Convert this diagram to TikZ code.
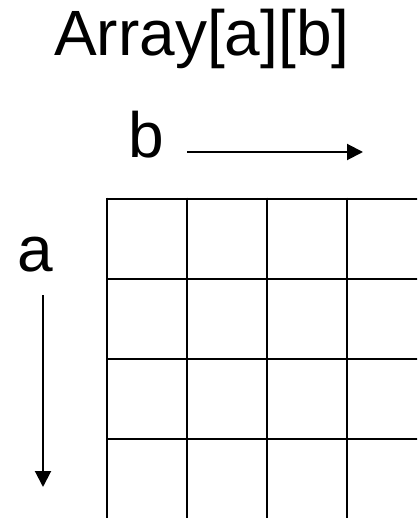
\documentclass[tikz,border=0pt]{standalone}
\usepackage{fontspec}
\setmainfont{Liberation Sans}
\usetikzlibrary{arrows.meta}
\tikzset{
  bigtext/.style={inner sep=0pt, font=\fontsize{64}{70}\selectfont},
  gridline/.style={line width=2.6pt, line cap=butt},
  axisarrow/.style={line width=2pt, -{Triangle[length=16pt,width=16pt]}}
}
\begin{document}
\begin{tikzpicture}[x=1pt,y=-1pt]
\useasboundingbox (0,0) rectangle (417,518);
\clip (0,0) rectangle (417,518);
\node[bigtext, anchor=base west] (title) at (54,56) {Array[a][b]};
\node[bigtext, anchor=base west] (blab) at (128,158) {b};
\node[bigtext, anchor=base west] (alab) at (17.5,271) {a};
\coordinate (bs) at (187,152);
\coordinate (be) at (363,152);
\coordinate (as) at (43,295);
\coordinate (ae) at (43,487);
\draw[axisarrow] (bs) -- (be);
\draw[axisarrow] (as) -- (ae);
\foreach \y [count=\i] in {199,279,359,439} {
  \coordinate (h\i) at (107,\y);
  \coordinate (hr\i) at (425,\y);
  \draw[gridline] (h\i) -- (hr\i);
}
\foreach \x [count=\i] in {107,187,267,347} {
  \coordinate (v\i) at (\x,197.7);
  \coordinate (vb\i) at (\x,525);
  \draw[gridline] (v\i) -- (vb\i);
}
\end{tikzpicture}
\end{document}
